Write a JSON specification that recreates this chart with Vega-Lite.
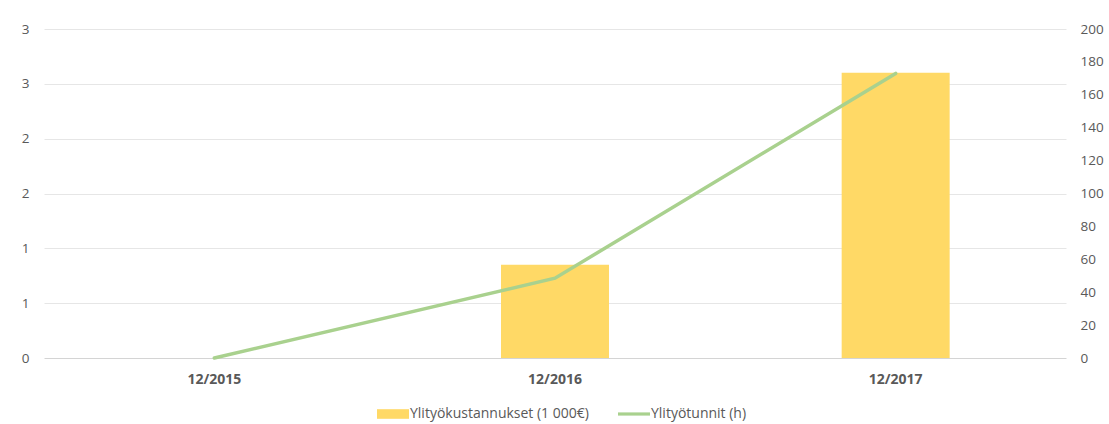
{
  "$schema": "https://vega.github.io/schema/vega-lite/v6.json",
  "autosize": {"type": "none"},
  "padding": {"left": 44, "top": 29, "right": 43, "bottom": 66},
  "width": 1022,
  "height": 329,
  "background": "white",
  "config": {
    "font": "Open Sans",
    "view": {"stroke": null},
    "axis": {"labelColor": "#595959", "labelFont": "Open Sans", "labelFontSize": 13.5, "domain": false, "ticks": false}
  },
  "data": {"values": [
    {"kausi": "12/2015", "kustannukset": 0, "tunnit": 0},
    {"kausi": "12/2016", "kustannukset": 0.85, "tunnit": 48.5},
    {"kausi": "12/2017", "kustannukset": 2.6, "tunnit": 173}
  ]},
  "encoding": {
    "x": {
      "field": "kausi", "type": "nominal", "sort": null,
      "scale": {"paddingInner": 0, "paddingOuter": 0},
      "axis": {"title": null, "labelAngle": 0, "labelFontWeight": "bold", "labelFontSize": 14, "labelPadding": 14, "grid": false}
    }
  },
  "layer": [
    {
      "mark": {"type": "bar", "width": {"band": 0.317}},
      "encoding": {
        "y": {
          "field": "kustannukset", "type": "quantitative",
          "scale": {"domain": [0, 3], "nice": false},
          "axis": {
            "title": null, "values": [0, 0.5, 1, 1.5, 2, 2.5, 3],
            "labelExpr": "round(datum.value) + ''", "labelPadding": 15,
            "gridColor": {"condition": {"test": "datum.value === 0", "value": "#D4D4D4"}, "value": "#E6E6E6"},
            "gridWidth": 1
          }
        },
        "color": {
          "datum": "Ylityökustannukset (1 000€)",
          "scale": {"domain": ["Ylityökustannukset (1 000€)", "Ylityötunnit (h)"], "range": ["#FFD966", "#A9D18E"]},
          "legend": {
            "title": null, "orient": "none", "direction": "horizontal",
            "legendX": 333, "legendY": 369,
            "labelColor": "#595959", "labelFontSize": 14, "labelFont": "Open Sans", "labelLimit": 400,
            "symbolSize": 1024, "columnPadding": 29, "labelOffset": 1,
            "encode": {
              "symbols": {"update": {
                "shape": {"signal": "datum.value === 'Ylityötunnit (h)' ? 'M-1,-0.1H1V0.1H-1Z' : 'M-1,-0.3H1V0.3H-1Z'"},
                "size": {"value": 1024},
                "fill": {"signal": "datum.value === 'Ylityötunnit (h)' ? '#A9D18E' : '#FFD966'"},
                "strokeWidth": {"value": 0},
                "opacity": {"value": 1},
                "fillOpacity": {"value": 1}
              }}
            }
          }
        }
      }
    },
    {
      "mark": {"type": "line", "strokeWidth": 3.5, "strokeCap": "round"},
      "encoding": {
        "y": {
          "field": "tunnit", "type": "quantitative",
          "scale": {"domain": [0, 200], "nice": false},
          "axis": {"title": null, "orient": "right", "values": [0, 20, 40, 60, 80, 100, 120, 140, 160, 180, 200], "grid": false, "labelPadding": 14}
        },
        "color": {"datum": "Ylityötunnit (h)"}
      }
    }
  ],
  "resolve": {"scale": {"y": "independent"}}
}
